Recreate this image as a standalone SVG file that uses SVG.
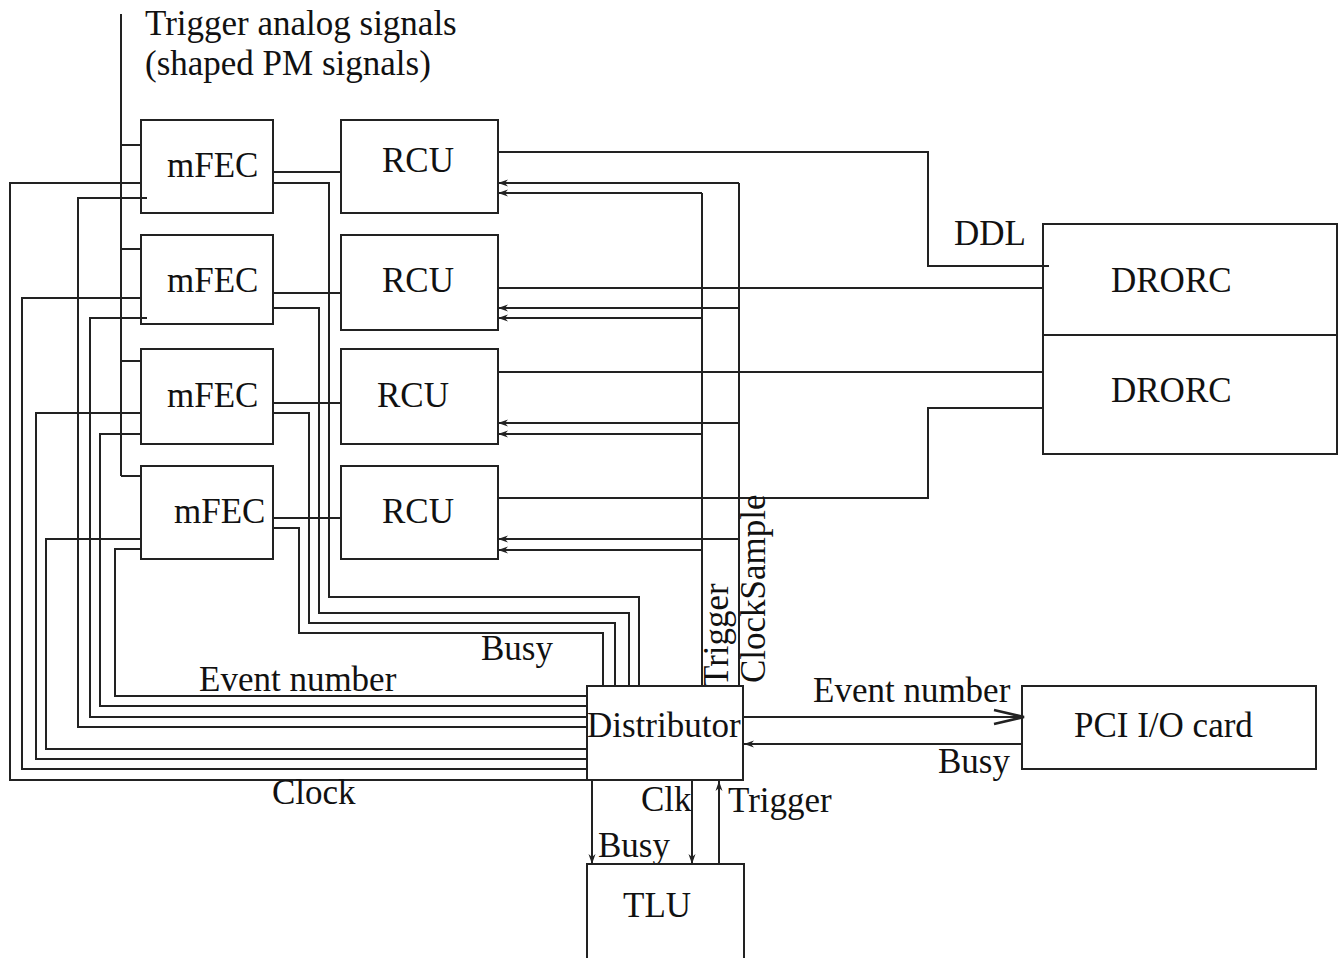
<svg xmlns="http://www.w3.org/2000/svg" width="1340" height="958" viewBox="0 0 1340 958">
<style>
  .box { fill: none; stroke: #222; stroke-width: 2; }
  .w { fill: none; stroke: #222; stroke-width: 2; }
  text { font-family: "Liberation Serif", "Times New Roman", serif; font-size: 35px; fill: #111; }
</style>
<defs>
  <marker id="sa" markerUnits="userSpaceOnUse" markerWidth="12" markerHeight="8" refX="10" refY="4" orient="auto">
    <path d="M0,0.5 L10,4 L0,7.5 L3,4 Z" fill="#222"/>
  </marker>
  <marker id="big" markerUnits="userSpaceOnUse" markerWidth="34" markerHeight="18" refX="32" refY="9" orient="auto">
    <path d="M2,2 L32,9 L2,16" fill="none" stroke="#222" stroke-width="2.5"/>
  </marker>
</defs>
<rect width="1340" height="958" fill="#fff"/>

<g id="connectors">
  <!-- analog signal bus -->
  <path class="w" d="M121,14 V476"/>
  <path class="w" d="M121,145 H141 M121,249 H141 M121,361 H141 M121,476 H141"/>
  <!-- mFEC to RCU -->
  <path class="w" d="M273,172 H341 M273,293 H341 M273,403 H341 M273,518 H341"/>
  <!-- Clock lines -->
  <path class="w" d="M141,183 H10 V780 H587"/>
  <path class="w" d="M141,298 H22 V769 H587"/>
  <path class="w" d="M141,413 H36 V759 H587"/>
  <path class="w" d="M141,539 H46 V749 H587"/>
  <!-- Event number lines -->
  <path class="w" d="M147,198 H78 V727 H587"/>
  <path class="w" d="M147,318 H90 V717 H587"/>
  <path class="w" d="M141,434 H100 V706 H587"/>
  <path class="w" d="M141,549 H115 V696 H587"/>
  <!-- Busy lines -->
  <path class="w" d="M273,183 H329 V597 H639 V686"/>
  <path class="w" d="M273,308 H319 V613 H629 V686"/>
  <path class="w" d="M273,413 H309 V623 H615 V686"/>
  <path class="w" d="M273,528 H299 V633 H603 V686"/>
  <!-- RCU to DRORC (DDL) -->
  <path class="w" d="M498,152 H928 V266 H1049"/>
  <path class="w" d="M498,288 H1043"/>
  <path class="w" d="M498,372 H1043"/>
  <path class="w" d="M498,498 H928 V408 H1043"/>
  <!-- ClockSample bus -->
  <path class="w" d="M739,686 V183"/>
  <path class="w" marker-end="url(#sa)" d="M739,183 H498"/>
  <path class="w" marker-end="url(#sa)" d="M739,308 H498"/>
  <path class="w" marker-end="url(#sa)" d="M739,423 H498"/>
  <path class="w" marker-end="url(#sa)" d="M739,539 H498"/>
  <!-- Trigger bus -->
  <path class="w" d="M702,686 V193"/>
  <path class="w" marker-end="url(#sa)" d="M702,193 H498"/>
  <path class="w" marker-end="url(#sa)" d="M702,318 H498"/>
  <path class="w" marker-end="url(#sa)" d="M702,434 H498"/>
  <path class="w" marker-end="url(#sa)" d="M702,550 H498"/>
  <!-- Distributor <-> PCI -->
  <path class="w" marker-end="url(#big)" d="M743,717 H1024"/>
  <path class="w" marker-end="url(#sa)" d="M1022,744 H744"/>
  <!-- Distributor <-> TLU -->
  <path class="w" marker-end="url(#sa)" d="M592,781 V864"/>
  <path class="w" marker-end="url(#sa)" d="M692,781 V864"/>
  <path class="w" marker-end="url(#sa)" d="M719,864 V781"/>
</g>

<g id="labels">
  <text x="145" y="35">Trigger analog signals</text>
  <text x="145" y="75">(shaped PM signals)</text>
  <text x="954" y="245">DDL</text>
  <text x="481" y="660">Busy</text>
  <text x="199" y="691">Event number</text>
  <text x="272" y="804">Clock</text>
  <text transform="translate(728,687) rotate(-90)">Trigger</text>
  <text transform="translate(765,683) rotate(-90)">ClockSample</text>
  <text x="813" y="702">Event number</text>
  <text x="938" y="773">Busy</text>
  <text x="641" y="811">Clk</text>
  <text x="728" y="812">Trigger</text>
  <text x="598" y="857">Busy</text>
</g>

<g id="mfec1"><rect class="box" x="141" y="120" width="132" height="93"/><text x="167" y="177">mFEC</text></g>
<g id="mfec2"><rect class="box" x="141" y="235" width="132" height="89"/><text x="167" y="292">mFEC</text></g>
<g id="mfec3"><rect class="box" x="141" y="349" width="132" height="95"/><text x="167" y="407">mFEC</text></g>
<g id="mfec4"><rect class="box" x="141" y="466" width="132" height="93"/><text x="174" y="523">mFEC</text></g>

<g id="rcu1"><rect class="box" x="341" y="120" width="157" height="93"/><text x="382" y="172">RCU</text></g>
<g id="rcu2"><rect class="box" x="341" y="235" width="157" height="95"/><text x="382" y="292">RCU</text></g>
<g id="rcu3"><rect class="box" x="341" y="349" width="157" height="95"/><text x="377" y="407">RCU</text></g>
<g id="rcu4"><rect class="box" x="341" y="466" width="157" height="93"/><text x="382" y="523">RCU</text></g>

<g id="drorc1"><rect class="box" x="1043" y="224" width="294" height="111"/><text x="1111" y="292">DRORC</text></g>
<g id="drorc2"><rect class="box" x="1043" y="335" width="294" height="119"/><text x="1111" y="402">DRORC</text></g>

<g id="distributor"><rect class="box" x="587" y="686" width="156" height="94"/><text x="587" y="737">Distributor</text></g>
<g id="pci"><rect class="box" x="1022" y="686" width="294" height="83"/><text x="1074" y="737">PCI I/O card</text></g>
<g id="tlu"><path class="box" d="M587,960 V864 H744 V960"/><text x="623" y="917">TLU</text></g>
</svg>
